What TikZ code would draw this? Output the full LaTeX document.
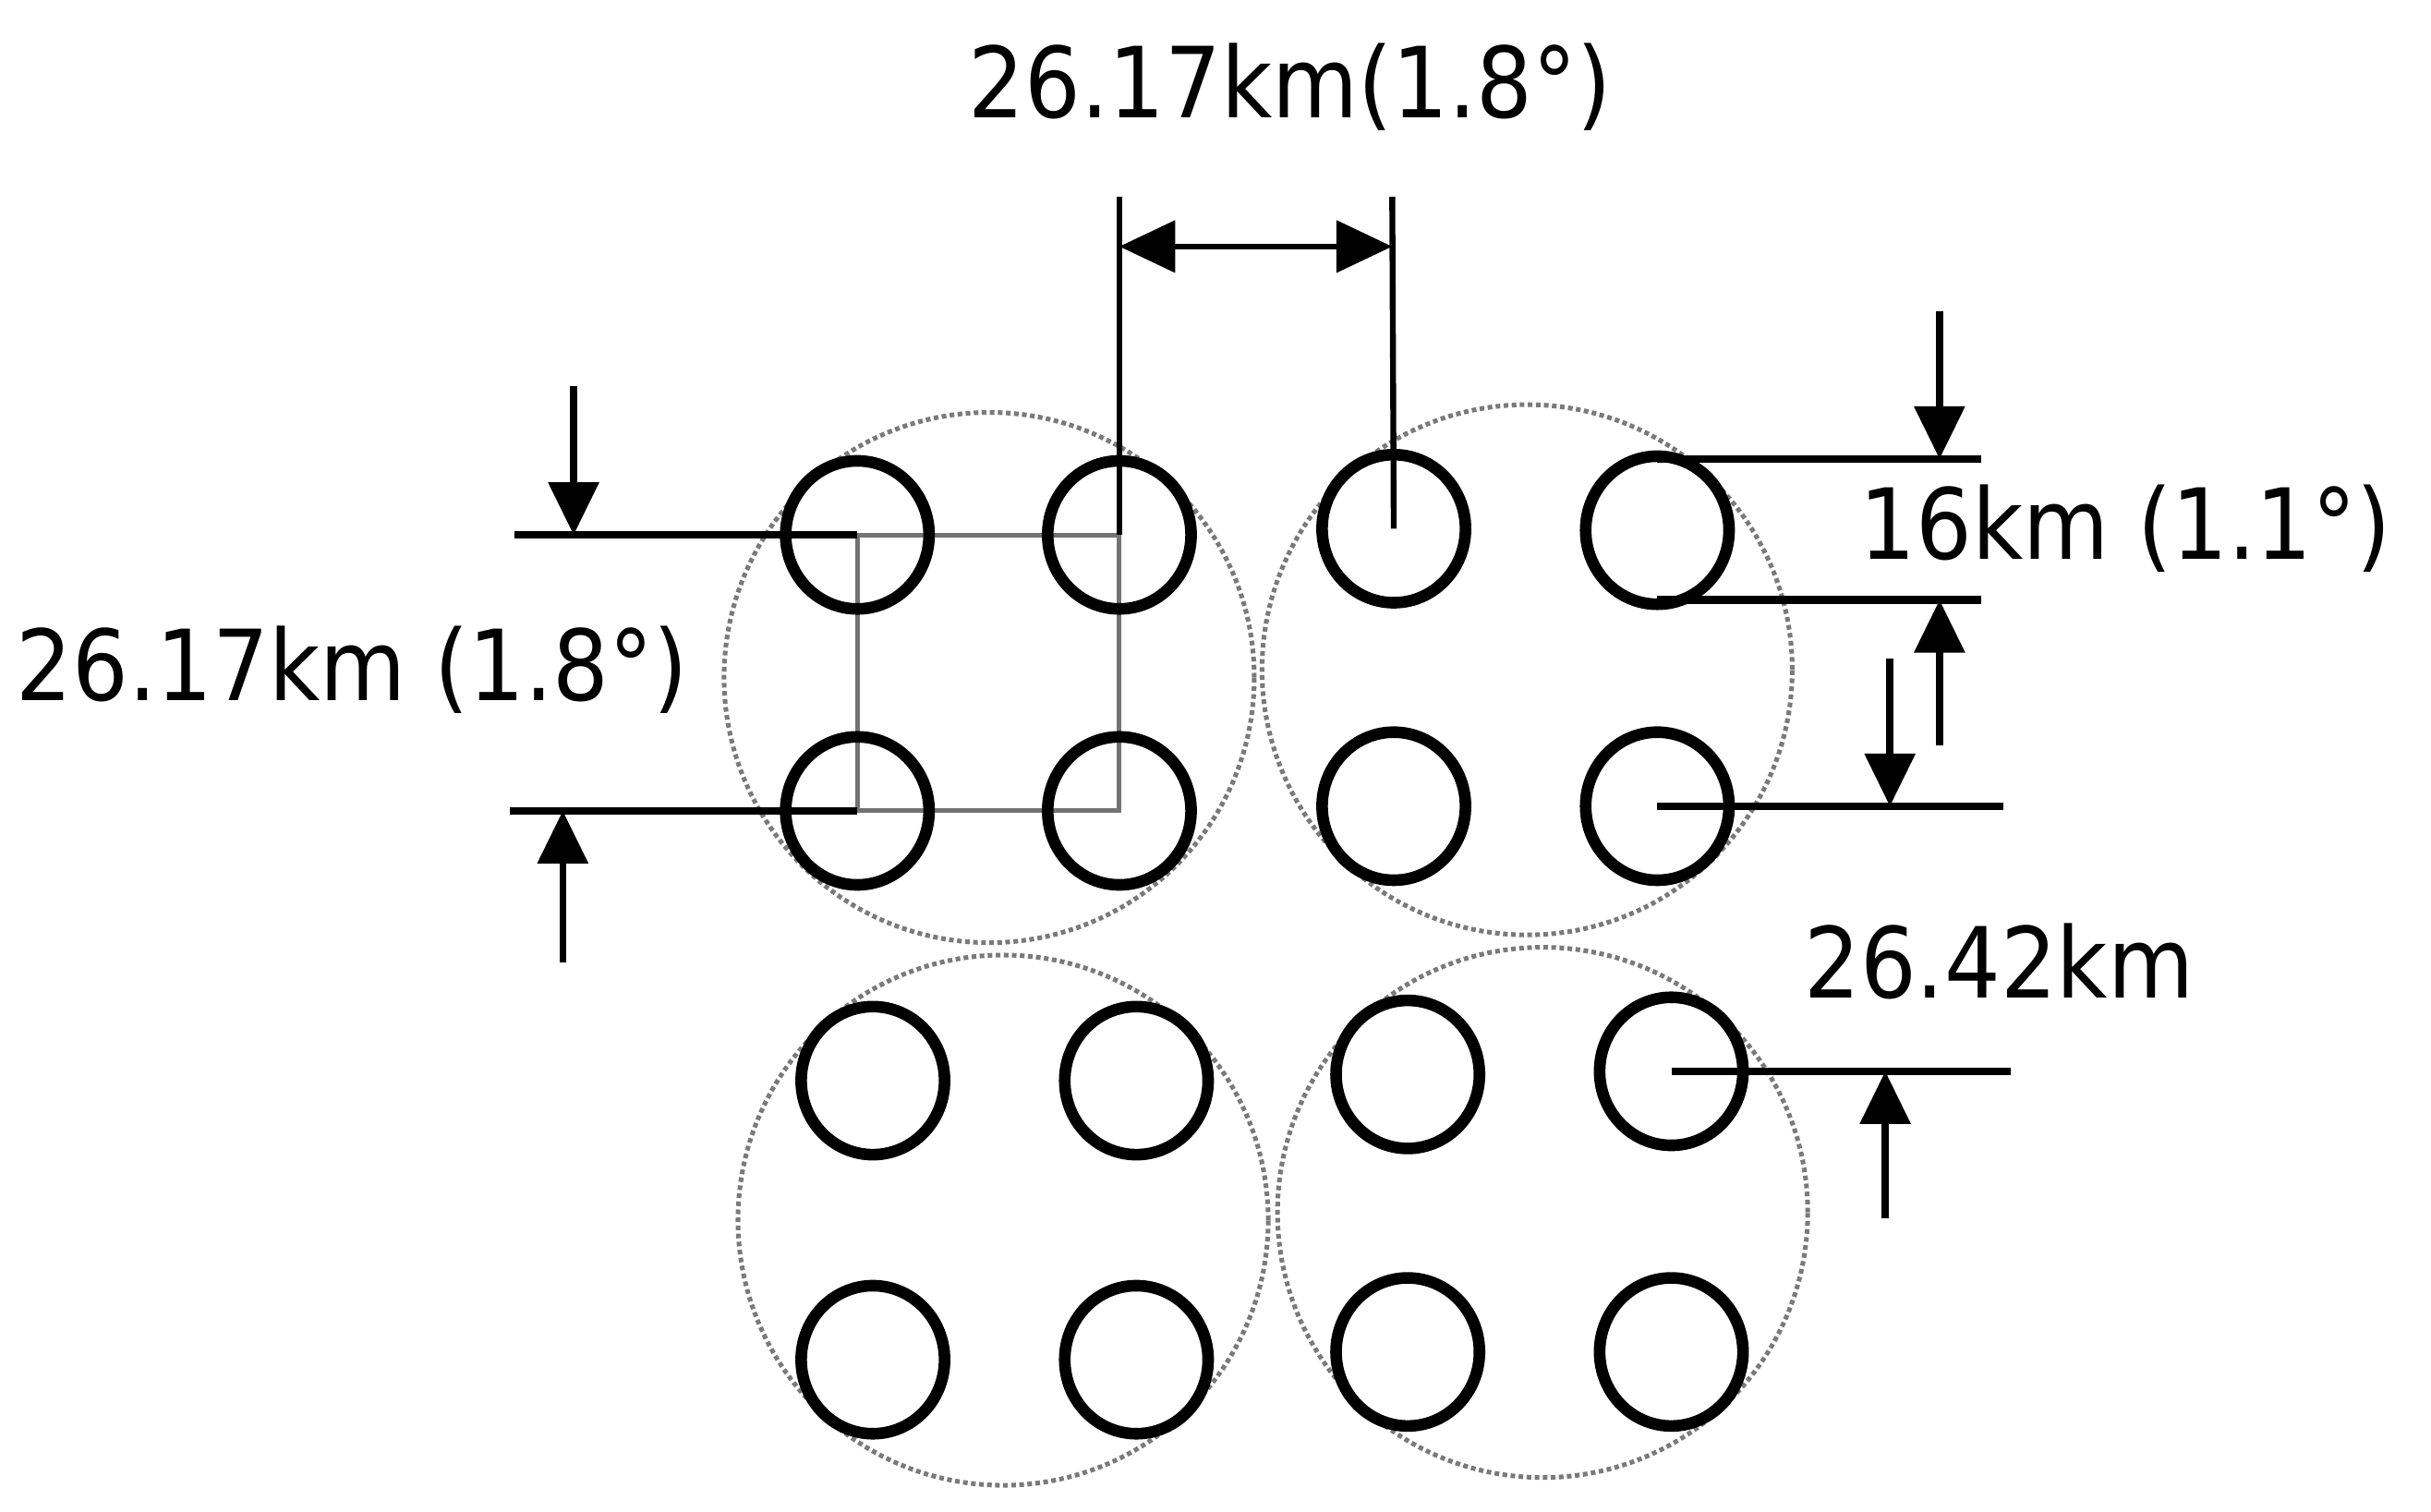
\documentclass[tikz,border=0pt]{standalone}
\usepackage{fontspec}
\setmainfont{DejaVu Sans}[FakeStretch=0.9]
\usetikzlibrary{arrows.meta,shapes.geometric,backgrounds}

\begin{document}
\begin{tikzpicture}[x=0.1mm,y=-0.1mm,
  spot/.style={ellipse,draw,line width=0.75mm,minimum width=9.25mm,minimum height=9.55mm,inner sep=0pt},
  beam/.style={circle,draw=black!52,line width=0.3mm,dash pattern=on 0.3mm off 0.22mm,minimum size=34.2mm,inner sep=0pt},
  dimline/.style={line width=0.5mm},
  extline/.style={line width=0.38mm},
  guide/.style={draw=black!55,line width=0.3mm},
  tip/.style={-{Triangle[length=3.4mm,width=3.2mm]},line width=0.45mm},
  twotip/.style={{Triangle[length=3.6mm,width=3.3mm]}-{Triangle[length=3.6mm,width=3.3mm]},line width=0.4mm},
  lbl/.style={inner sep=0pt,anchor=base west,font=\fontsize{18}{20}\selectfont}]

\useasboundingbox (0,0) rectangle (1568,975);

% large dotted beam circles
\node[beam] (b1) at (638,437) {};
\node[beam] (b2) at (985,432) {};
\node[beam] (b3) at (647,787) {};
\node[beam] (b4) at (995,782) {};

% small spot circles
\node[spot] (c11) at (553,345) {};
\node[spot] (c12) at (722,345) {};
\node[spot] (c13) at (899,341) {};
\node[spot] (c14) at (1069,342) {};
\node[spot] (c21) at (553,523) {};
\node[spot] (c22) at (722,523) {};
\node[spot] (c23) at (899,520) {};
\node[spot] (c24) at (1069,520) {};
\node[spot] (c31) at (563,697) {};
\node[spot] (c32) at (733,697) {};
\node[spot] (c33) at (908,693) {};
\node[spot] (c34) at (1078,691) {};
\node[spot] (c41) at (563,877) {};
\node[spot] (c42) at (733,877) {};
\node[spot] (c43) at (908,872) {};
\node[spot] (c44) at (1078,872) {};

% gray square joining four centres (under the circles)
\begin{scope}[on background layer]
\fill[white] (0,0) rectangle (1568,975);
\draw[guide] (c11.center) -- (c12.center) -- (c22.center) -- (c21.center) -- cycle;
\end{scope}

% labels
\node[lbl] (ttop) at (624,76) {26.17km(1.8°)};
\node[lbl] (tleft) at (10,452) {26.17km (1.8°)};
\node[lbl] (tright) at (1199,361) {16km (1.1°)};
\node[lbl] (tlow) at (1163,644) {26.42km};

% top dimension
\coordinate (v1) at (722,127);
\coordinate (v2) at (898,127);
\coordinate (d1) at (722,159);
\coordinate (d2) at (898,159);
\draw[extline] (c12.center) -- (v1);
\draw[extline] (c13.center) -- (v2);
\draw[twotip] (d1) -- (d2);

% left dimension
\coordinate (l1) at (332,345);
\coordinate (l2) at (329,523);
\coordinate (la1) at (370,249);
\coordinate (la2) at (370,345);
\coordinate (lb1) at (363,621);
\coordinate (lb2) at (363,523);
\draw[dimline] (l1) -- (c11.center);
\draw[dimline] (l2) -- (c21.center);
\draw[tip] (la1) -- (la2);
\draw[tip] (lb1) -- (lb2);

% right dimension 16km
\coordinate (r1) at (1069,296);
\coordinate (r1e) at (1278,296);
\coordinate (r2) at (1069,387);
\coordinate (r2e) at (1278,387);
\coordinate (r3e) at (1292,520);
\coordinate (ra1) at (1251,201);
\coordinate (ra2) at (1251,296);
\coordinate (rb1) at (1251,481);
\coordinate (rb2) at (1251,387);
\coordinate (rc1) at (1219,425);
\coordinate (rc2) at (1219,520);
\draw[dimline] (r1) -- (r1e);
\draw[dimline] (r2) -- (r2e);
\draw[dimline] (c24.center) -- (r3e);
\draw[tip] (ra1) -- (ra2);
\draw[tip] (rb1) -- (rb2);
\draw[tip] (rc1) -- (rc2);

% 26.42km dimension
\coordinate (s1e) at (1297,691);
\coordinate (sa1) at (1216,786);
\coordinate (sa2) at (1216,691);
\draw[dimline] (c34.center) -- (s1e);
\draw[tip] (sa1) -- (sa2);

\end{tikzpicture}
\end{document}
